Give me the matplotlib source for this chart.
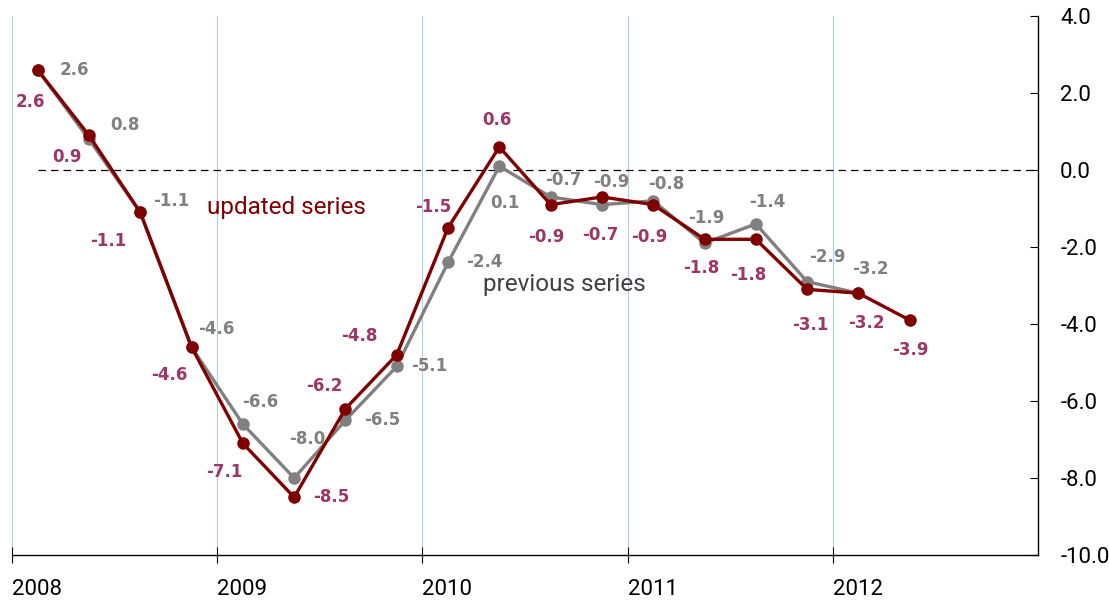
import matplotlib.pyplot as plt
from matplotlib.ticker import FixedLocator

years = [2008, 2009, 2010, 2011, 2012]
previous = [2.6, 0.8, -1.1, -4.6, -6.6, -8.0, -6.5, -5.1, -2.4, 0.1,
            -0.7, -0.9, -0.8, -1.9, -1.4, -2.9, -3.2]
updated = [2.6, 0.9, -1.1, -4.6, -7.1, -8.5, -6.2, -4.8, -1.5, 0.6,
           -0.9, -0.7, -0.9, -1.8, -1.8, -3.1, -3.2, -3.9]

# quarter midpoints
x_prev = [2008 + (i + 0.5) / 4 for i in range(len(previous))]
x_upd = [2008 + (i + 0.5) / 4 for i in range(len(updated))]

# label offsets in pixels (dx, dy in screen coords, y down)
prev_off = [(37, 0), (36, -14), (31, -11), (25, -18), (17, -22), (13, -39),
            (37, 0), (32, 0), (36, 0), (6, 37), (13, -17), (9, -23),
            (13, -17), (2, -25), (11, -22), (20, -25), (12, -24)]
upd_off = [(-7, 32), (-22, 22), (-32, 29), (-22, 28), (-19, 29), (37, 0),
           (-21, -23), (-37, -19), (-15, -21), (-2, -27), (-4, 32), (-2, 38),
           (-4, 32), (-3, 29), (-8, 36), (3, 36), (8, 30), (1, 30)]

RED = "#800000"
GREY = "#808080"
RED_LBL = "#9b3668"

fig = plt.figure(figsize=(11.09, 6), dpi=100)
ax = fig.add_axes([12 / 1109, 1 - 555 / 600, (1038 - 12) / 1109, (555 - 16) / 600])

ax.set_xlim(2008, 2013)
ax.set_ylim(-10, 4)

for y in years:
    ax.axvline(y, color="#a9cdf2", lw=0.8, zorder=0)

ax.plot([x_prev[0], 2013], [0, 0], color="black", lw=0.9, ls=(0, (6, 4)), zorder=1)

ax.plot(x_prev, previous, "-o", color=GREY, lw=2.4, ms=8, zorder=2)
ax.plot(x_upd, updated, "-o", color=RED, lw=2.4, ms=8, zorder=3)

for x, v, (dx, dy) in zip(x_prev, previous, prev_off):
    ax.annotate(f"{v:.1f}", (x, v), xytext=(dx, -dy), textcoords="offset pixels",
                ha="center", va="center", color=GREY, fontsize=12,
                fontweight="bold", family="DejaVu Sans")
for x, v, (dx, dy) in zip(x_upd, updated, upd_off):
    ax.annotate(f"{v:.1f}", (x, v), xytext=(dx, -dy), textcoords="offset pixels",
                ha="center", va="center", color=RED_LBL, fontsize=12,
                fontweight="bold", family="DejaVu Sans")

ax.text(2008.0 + (287 - 12) / 205.3, 4 - (207 - 16) / 38.5, "updated series",
        color=RED, fontsize=17.5, ha="center", va="center", family="Roboto")
ax.text(2008.0 + (565 - 12) / 205.3, 4 - (284 - 16) / 38.5, "previous series",
        color="#404040", fontsize=17.5, ha="center", va="center", family="Roboto")

for s in ["top", "left"]:
    ax.spines[s].set_visible(False)
ax.spines["right"].set_linewidth(1.0)
ax.spines["bottom"].set_linewidth(1.0)

ax.yaxis.tick_right()
ax.set_yticks(range(-10, 5, 2))
ax.set_yticklabels([f"{v:.1f}" for v in range(-10, 5, 2)])
ax.tick_params(axis="y", direction="in", length=6, pad=16, labelsize=16)
ax.tick_params(axis="x", direction="inout", length=12, pad=11, labelsize=16)

ax.xaxis.set_major_locator(FixedLocator(years))
ax.set_xticklabels([str(y) for y in years], ha="left")
for lbl in ax.get_xticklabels() + ax.get_yticklabels():
    lbl.set_family("Roboto")

fig.savefig("out.png", dpi=100)
